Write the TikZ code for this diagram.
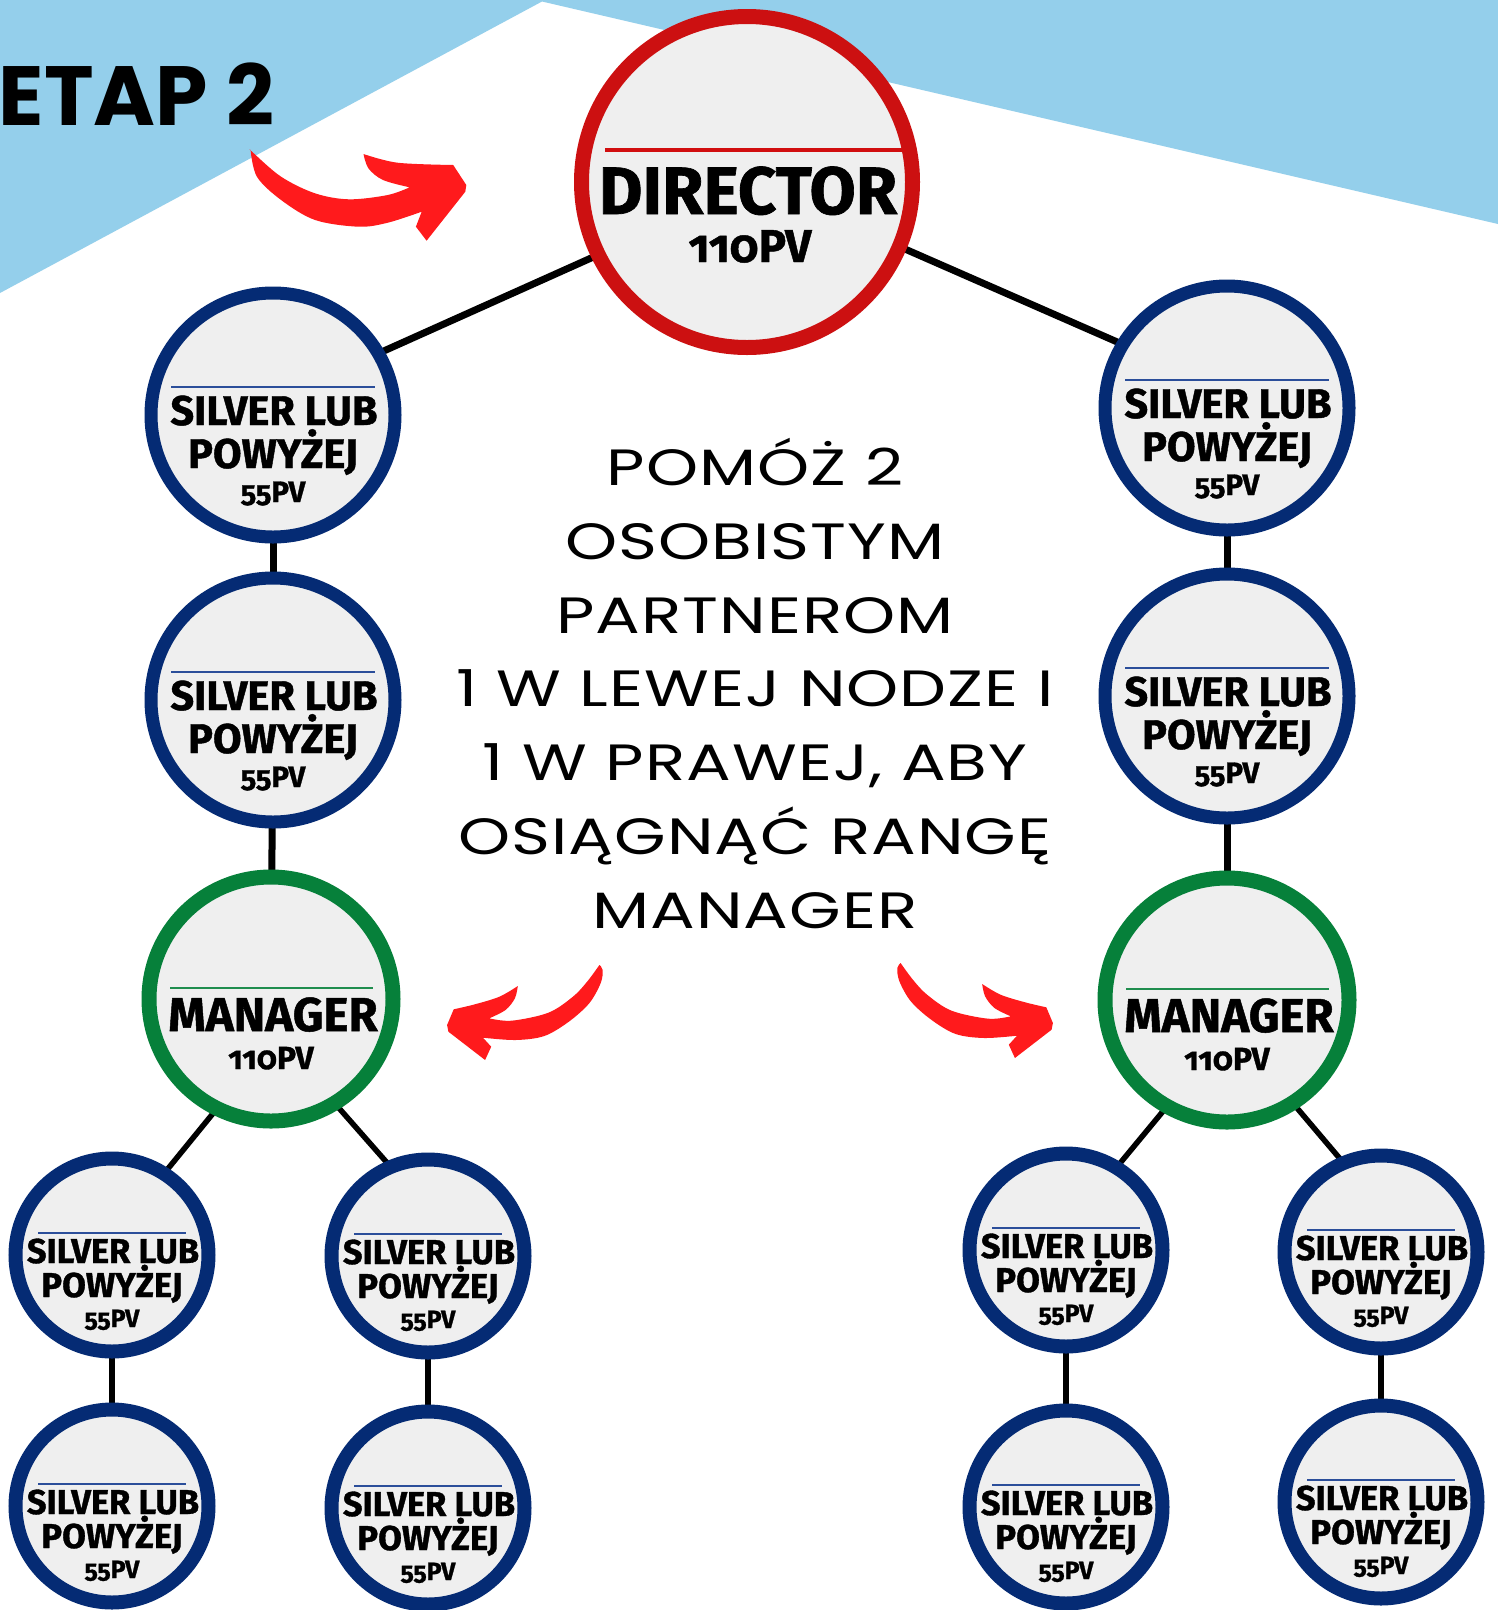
\documentclass[tikz,border=0pt]{standalone}
\usepackage{fontspec}
\newfontfamily\firaS{Fira Sans}[BoldFeatures={FakeBold=1}]
\newfontfamily\firaO{Fira Sans}[Numbers=OldStyle,BoldFeatures={FakeBold=1}]
\newfontfamily\popp{Poppins}
\newfontfamily\poppW{Poppins}[FakeStretch=1.3,LetterSpace=2]
\usetikzlibrary{calc}
\definecolor{skyb}{HTML}{94CFEB}
\definecolor{navy}{HTML}{052B74}
\definecolor{grn}{HTML}{06803A}
\definecolor{redring}{HTML}{CC1011}
\definecolor{redarr}{HTML}{FF1A1C}
\definecolor{nodefill}{HTML}{EFEFEF}
\definecolor{navyrule}{HTML}{2B4E9A}
\pgfdeclarelayer{bg}
\pgfsetlayers{bg,main}
\newcommand{\fs}[1]{\fontsize{#1}{#1}\selectfont}
% big silver node: name, x, y
\newcommand{\silverB}[3]{%
 \begin{scope}[shift={(#2,#3)}]
  \node[silvB] (#1) at (0,0) {};
  \draw[srule] (-102,-28) -- (102,-28);
  \node[txt,font=\firaS\bfseries\fs{41.5}] (#1a) at (1,10) {SILVER LUB};
  \node[txt,font=\firaS\bfseries\fs{41.5}] (#1b) at (0,53) {POWYŻEJ};
  \node[txt,font=\firaO\bfseries\fs{29.5}] (#1c) at (0,87) {55PV};
 \end{scope}}
\newcommand{\silverS}[3]{%
 \begin{scope}[shift={(#2,#3)}]
  \node[silvS] (#1) at (0,0) {};
  \draw[srule] (-74,-22) -- (74,-22);
  \node[txt,font=\firaS\bfseries\fs{34.5}] (#1a) at (1,8) {SILVER LUB};
  \node[txt,font=\firaS\bfseries\fs{34.5}] (#1b) at (0,42) {POWYŻEJ};
  \node[txt,font=\firaO\bfseries\fs{25}] (#1c) at (0,72) {55PV};
 \end{scope}}
\newcommand{\managerN}[3]{%
 \begin{scope}[shift={(#2,#3)}]
  \node[mgr] (#1) at (0,0) {};
  \draw[grule] (-101,-11) -- (102,-11);
  \node[txt,font=\firaS\bfseries\fs{47.5}] (#1a) at (2,32) {MANAGER};
  \node[txt,font=\firaO\bfseries\fs{32}] (#1b) at (0,70) {110PV};
 \end{scope}}
\newcommand{\lowarrow}{%
 \fill[redarr] plot[smooth,tension=0.55] coordinates {(599.4,965) (602.7,970) (600.6,983.3) (589.2,1003.3) (568.8,1021.7) (544.3,1036) (515.7,1040) (483,1037.7)}
 -- (491.2,1046.7) -- (485.1,1060) -- (448.4,1031.7) -- (447.1,1025) -- (453.7,1009.3)
 -- plot[smooth,tension=0.55] coordinates {(453.7,1009.3) (474.9,1004.3) (499.4,996.7) (517.8,986)}
 -- plot[smooth,tension=0.55] coordinates {(517.8,986) (514.9,998.3) (505.5,1010) (489.2,1018.3)}
 -- plot[smooth,tension=0.55] coordinates {(489.2,1018.3) (511.6,1020.7) (548.4,1012.7) (572.9,996.7) (587.1,981.7) (599.4,965)}
 -- cycle;}
\begin{document}
\begin{tikzpicture}[x=1pt,y=-1pt,
  silvB/.style={circle,draw=navy,line width=13pt,fill=nodefill,minimum size=244pt,inner sep=0pt},
  silvS/.style={circle,draw=navy,line width=14pt,fill=nodefill,minimum size=193pt,inner sep=0pt},
  mgr/.style={circle,draw=grn,line width=15pt,fill=nodefill,minimum size=244pt,inner sep=0pt},
  dirst/.style={circle,draw=redring,line width=15pt,fill=nodefill,minimum size=331pt,inner sep=0pt},
  txt/.style={anchor=base,inner sep=0pt,outer sep=0pt,text=black},
  srule/.style={draw=navyrule,line width=2.5pt},
  grule/.style={draw=grn!90!white,line width=2.5pt},
  conn/.style={draw=black,line width=7pt,shorten <=-14pt,shorten >=-14pt},
  connS/.style={draw=black,line width=5.5pt,shorten <=-14pt,shorten >=-14pt}]
\useasboundingbox (0,0) rectangle (1498,1610);
% director
\node[dirst] (dir) at (747,182) {};
\draw[draw=redring!90!red,line width=4pt] (605,150) -- (906,150);
\node[txt,font=\firaS\bfseries\fs{67}] (dira) at (748,214) {DIRECTOR};
\node[txt,font=\firaO\bfseries\fs{46}] (dirb) at (750,262) {110PV};
% columns
\silverB{ls1}{273}{415}
\silverB{ls2}{273}{700}
\managerN{lm}{271}{999}
\silverB{rs1}{1227}{408}
\silverB{rs2}{1227}{696}
\managerN{rm}{1227}{1000}
% bottom rows
\silverS{la}{112}{1255}
\silverS{lb}{112}{1506}
\silverS{lc}{428}{1256}
\silverS{ld}{428}{1508}
\silverS{ra}{1066}{1250}
\silverS{rb}{1066}{1507}
\silverS{rc}{1381}{1252}
\silverS{rd}{1381}{1502}
% texts
\node[txt,anchor=base east,font=\popp\bfseries\fs{84}] (etap) at (274,125) {ETAP 2};
\node[inner sep=0pt,anchor=base,align=center,font=\poppW\fontsize{51}{73.7}\selectfont] (info) at (755,928)
 {POMÓŻ 2\\OSOBISTYM\\PARTNEROM\\1 W LEWEJ NODZE I\\1 W PRAWEJ, ABY\\OSIĄGNĄĆ RANGĘ\\MANAGER};
% red arrows
\fill[redarr] plot[smooth,tension=0.55] coordinates {(250.6,150) (256.9,176.7) (281.1,200) (315.1,220) (358.7,226.7) (387.8,222.7) (421.7,211.7)}
 -- (415.9,226.7) -- (426.6,240.7) -- (465.3,191.7) -- (466.3,185) -- (453.2,165)
 -- plot[smooth,tension=0.55] coordinates {(453.2,165) (397.5,162.7) (363.5,154)}
 -- plot[smooth,tension=0.55] coordinates {(363.5,154) (368.4,168.3) (383,180) (409.6,187.3)}
 -- plot[smooth,tension=0.55] coordinates {(409.6,187.3) (387.8,195) (349,199.3) (315,193.3) (281.1,176.7) (252,151.7) (250.6,150)}
 -- cycle;
\lowarrow
\begin{scope}[shift={(1500,-2)},xscale=-1]
\lowarrow
\end{scope}
% background and connectors
\begin{pgfonlayer}{bg}
\fill[white] (0,0) rectangle (1498,1610);
\fill[skyb] (0,0) -- (1498,0) -- (1498,224) -- (542,1.5) -- (0,293) -- cycle;
\draw[conn] (dir.206) -- (ls1.30);
\draw[conn] (dir.337) -- (rs1.149);
\draw[conn] (ls1) -- (ls2);
\draw[conn] (ls2) -- (lm);
\draw[conn] (rs1) -- (rs2);
\draw[conn] (rs2) -- (rm);
\draw[connS] (lm.243) -- (la.57);
\draw[connS] (lm.302) -- (lc.114);
\draw[connS] (rm.240) -- (ra.58);
\draw[connS] (rm.303) -- (rc.114);
\draw[connS] (la) -- (lb);
\draw[connS] (lc) -- (ld);
\draw[connS] (ra) -- (rb);
\draw[connS] (rc) -- (rd);
\end{pgfonlayer}
\end{tikzpicture}
\end{document}
